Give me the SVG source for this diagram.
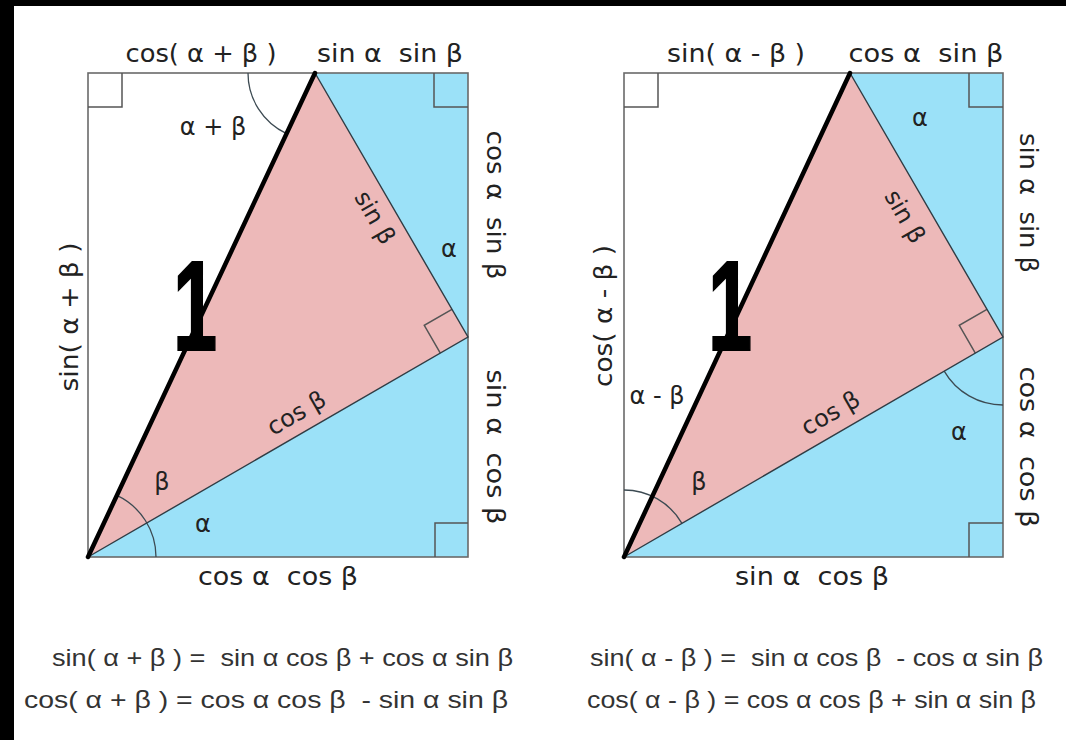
<svg xmlns="http://www.w3.org/2000/svg" width="1066" height="740" viewBox="0 0 1066 740">
<style>
.pink{fill:#EDB9B9;stroke:none}
.blue{fill:#9BE1F8;stroke:none}
.frame{fill:none;stroke:#6a6a6a;stroke-width:1.6}
.mark{fill:none;stroke:#555;stroke-width:1.5}
.edge{fill:none;stroke:#2f3c44;stroke-width:1.4}
.arc{fill:none;stroke:#3c4a52;stroke-width:1.3}
.thick{fill:none;stroke:#000;stroke-width:4.5;stroke-linecap:round}
.lbl{font-family:"DejaVu Sans",sans-serif;font-size:24px;fill:#222}
.mid{text-anchor:middle}
.one{font-family:"Liberation Sans",Arial,sans-serif;font-weight:bold;font-size:128px;fill:#000;stroke:#000;stroke-width:2}
.fml{font-family:"Liberation Sans",Arial,sans-serif;font-size:24px;fill:#333}
</style>
<rect x="0" y="0" width="1066" height="740" fill="#fff"/>
<rect x="0" y="0" width="1066" height="6" fill="#000"/>
<rect x="0" y="0" width="14" height="740" fill="#000"/>

<g id="diagram-sum">
  <polygon class="blue" points="315,73 468,73 468,337"/>
  <polygon class="blue" points="88,557 468,337 468,557"/>
  <polygon class="pink" points="88,557 315,73 468,337"/>
  <rect class="frame" x="88" y="73" width="380" height="484"/>
  <path class="mark" d="M88,107 H122 V73 M434,73 V107 H468 M435,557 V523 H468"/>
  <path class="mark" d="M451.95,309.31 L424.26,325.34 L440.31,353.03"/>
  <path class="arc" d="M248,73 A67,67 0 0 0 286.55,133.66"/>
  <path class="arc" d="M156,557 A68,68 0 0 0 116.87,495.43"/>
  <path class="edge" d="M315,73 L468,337 L88,557"/>
  <text class="one" transform="translate(173,350) scale(0.62,1)">1</text>
  <path class="thick" d="M88,557 L315,73"/>
  <text class="lbl mid" x="201" y="62" textLength="151" lengthAdjust="spacingAndGlyphs">cos( α + β )</text>
  <text class="lbl mid" x="390" y="62" textLength="146" lengthAdjust="spacingAndGlyphs">sin α&#160; sin β</text>
  <text class="lbl mid" x="213" y="135">α + β</text>
  <text class="lbl mid" transform="translate(374,218) rotate(60.1)" y="7">sin β</text>
  <text class="lbl mid" x="449" y="257">α</text>
  <text class="lbl mid" transform="translate(487,205) rotate(90)" textLength="149" lengthAdjust="spacingAndGlyphs">cos α&#160; sin β</text>
  <text class="lbl mid" transform="translate(78,317) rotate(-90)" textLength="149" lengthAdjust="spacingAndGlyphs">sin( α + β )</text>
  <text class="lbl mid" transform="translate(297,414) rotate(-30.1)" y="7">cos β</text>
  <text class="lbl mid" x="162" y="490">β</text>
  <text class="lbl mid" x="203" y="532">α</text>
  <text class="lbl mid" transform="translate(487,447) rotate(90)" textLength="155" lengthAdjust="spacingAndGlyphs">sin α&#160; cos β</text>
  <text class="lbl mid" x="278" y="585" textLength="160" lengthAdjust="spacingAndGlyphs">cos α&#160; cos β</text>
</g>

<g id="diagram-difference">
  <polygon class="blue" points="850,73 1003,73 1003,337"/>
  <polygon class="blue" points="624,557 1003,337 1003,557"/>
  <polygon class="pink" points="624,557 850,73 1003,337"/>
  <rect class="frame" x="624" y="73" width="379" height="484"/>
  <path class="mark" d="M624,107 H658 V73 M969,73 V107 H1003 M969,557 V523 H1003"/>
  <path class="mark" d="M986.95,309.31 L959.27,325.38 L975.32,353.07"/>
  <path class="arc" d="M624,490 A67,67 0 0 1 681.95,523.36"/>
  <path class="arc" d="M944.19,371.14 A68,68 0 0 0 1003,405"/>
  <path class="edge" d="M850,73 L1003,337 L624,557"/>
  <text class="one" transform="translate(708,350) scale(0.62,1)">1</text>
  <path class="thick" d="M624,557 L850,73"/>
  <text class="lbl mid" x="736" y="62" textLength="138" lengthAdjust="spacingAndGlyphs">sin( α - β )</text>
  <text class="lbl mid" x="926" y="62" textLength="155" lengthAdjust="spacingAndGlyphs">cos α&#160; sin β</text>
  <text class="lbl mid" x="920" y="126">α</text>
  <text class="lbl mid" transform="translate(904,217) rotate(60.1)" y="7">sin β</text>
  <text class="lbl mid" transform="translate(1020,203) rotate(90)" textLength="140" lengthAdjust="spacingAndGlyphs">sin α&#160; sin β</text>
  <text class="lbl mid" transform="translate(612,316) rotate(-90)" textLength="142" lengthAdjust="spacingAndGlyphs">cos( α - β )</text>
  <text class="lbl mid" x="657" y="404">α - β</text>
  <text class="lbl mid" transform="translate(831,414) rotate(-30.1)" y="7">cos β</text>
  <text class="lbl mid" x="959" y="440">α</text>
  <text class="lbl mid" x="699" y="490">β</text>
  <text class="lbl mid" transform="translate(1020,447) rotate(90)" textLength="161" lengthAdjust="spacingAndGlyphs">cos α&#160; cos β</text>
  <text class="lbl mid" x="812" y="585" textLength="154" lengthAdjust="spacingAndGlyphs">sin α&#160; cos β</text>
</g>

<g id="formulas">
  <text class="fml" x="52" y="666" textLength="461" lengthAdjust="spacingAndGlyphs">sin( α + β ) =&#160; sin α cos β + cos α sin β</text>
  <text class="fml" x="24" y="708" textLength="484" lengthAdjust="spacingAndGlyphs">cos( α + β ) = cos α cos β&#160; - sin α sin β</text>
  <text class="fml" x="590" y="666" textLength="453" lengthAdjust="spacingAndGlyphs">sin( α - β ) =&#160; sin α cos β&#160; - cos α sin β</text>
  <text class="fml" x="587" y="708" textLength="449" lengthAdjust="spacingAndGlyphs">cos( α - β ) = cos α cos β + sin α sin β</text>
</g>
</svg>
